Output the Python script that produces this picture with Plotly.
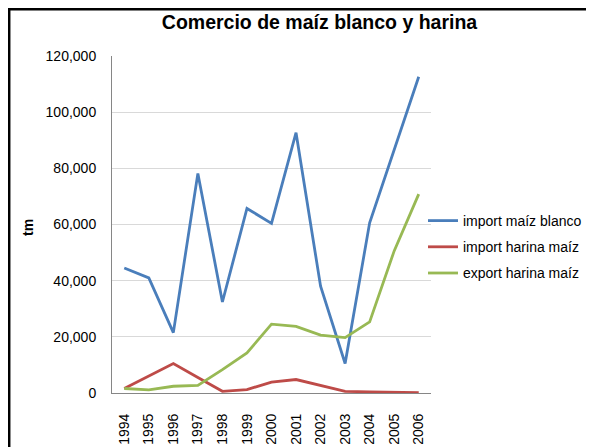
import plotly.graph_objects as go

years = ["1994", "1995", "1996", "1997", "1998", "1999", "2000",
         "2001", "2002", "2003", "2004", "2005", "2006"]
import_maiz_blanco = [44500, 41000, 21500, 78200, 32400, 65700, 60400,
                      92700, 38000, 10500, 60600, 86500, 112600]
import_harina_maiz = [1600, 6000, 10500, 5500, 600, 1200, 3900,
                      4800, 2600, 600, 400, 200, 100]
export_harina_maiz = [1600, 1100, 2400, 2700, 8300, 14300, 24500,
                      23700, 20600, 19700, 25300, 50600, 70800]
series_names = ["import maíz blanco", "import harina maíz", "export harina maíz"]
colors = ["#4a7ebb", "#be4b48", "#98b954"]

# page has an 8px body margin; figure coords = page coords - 8
W, H = 586, 439
L, T = 104, 48
R = W - 423
B = H - 385
font = "Liberation Sans"

fig = go.Figure()
for i, (name, vals) in enumerate(zip(series_names,
                                     [import_maiz_blanco, import_harina_maiz, export_harina_maiz])):
    fig.add_trace(go.Scatter(x=years, y=vals, mode="lines", name=name,
                             legendgroup=name,
                             line=dict(color=colors[i], width=2.8)))

pw = W - L - R
ph = H - T - B
bottom = H - B  # figure y of plot bottom


def px_x(p):
    return (p - L) / pw


def px_y(p):
    return (bottom - p) / ph


fig.update_layout(
    width=W, height=H,
    margin=dict(l=L, r=R, t=T, b=B, autoexpand=False),
    paper_bgcolor="white", plot_bgcolor="white",
    font=dict(family=font, size=14, color="#000000"),
    title=dict(text="<b>Comercio de maíz blanco y harina</b>",
               font=dict(family=font, size=19.5, color="#000000"),
               xref="container", x=311.5 / W, xanchor="center",
               yref="container", y=1 - 14 / H, yanchor="middle"),
    showlegend=True,
    legend=dict(xref="container", x=415 / W, xanchor="left",
                yref="container", y=1 - 197 / H, yanchor="top",
                font=dict(family=font, size=14), tracegroupgap=5,
                bgcolor="rgba(0,0,0,0)", itemwidth=30),
    xaxis=dict(type="category", showgrid=False, showline=True, linecolor="#868686",
               linewidth=1, tickangle=-90, ticks="", ticklabelstandoff=14,
               automargin=False,
               tickfont=dict(family=font, size=14), range=[-0.5, 12.5]),
    yaxis=dict(range=[0, 120000], dtick=20000, tickformat=",d",
               showgrid=True, gridcolor="#d9d9d9", gridwidth=1,
               showline=True, linecolor="#868686", linewidth=1,
               ticks="", ticklabelstandoff=12, zeroline=False, automargin=False,
               tickfont=dict(family=font, size=14)),
)

fig.add_annotation(text="<b>tm</b>", xref="paper", yref="paper",
                   x=px_x(20), y=px_y(220), textangle=-90,
                   showarrow=False, font=dict(family=font, size=14, color="#000"),
                   xanchor="center", yanchor="middle")

# chart border (clipped at right and bottom)
fig.add_shape(type="rect", xref="paper", yref="paper",
              x0=px_x(1.2), x1=px_x(W + 20),
              y0=px_y(H + 20), y1=px_y(1.2),
              line=dict(color="#000000", width=2.5), fillcolor="rgba(0,0,0,0)",
              layer="above")

fig.write_html("out.html")
